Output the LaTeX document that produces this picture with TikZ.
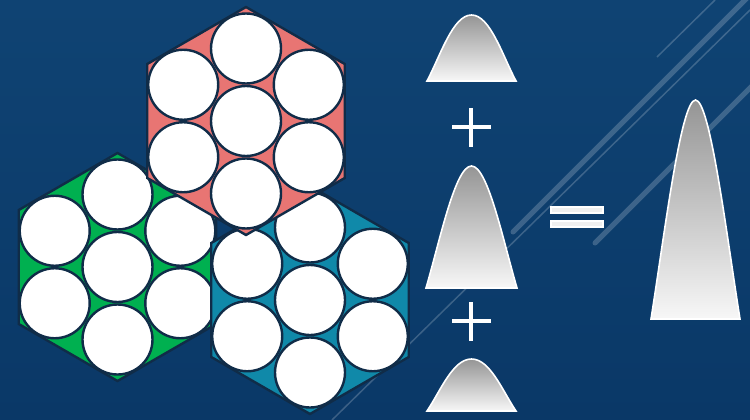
\documentclass[tikz,border=0pt]{standalone}
\usepackage{tikz}
\definecolor{slidetop}{HTML}{0F4373}
\definecolor{slidebot}{HTML}{0A3867}
\definecolor{cellline}{HTML}{102C48}
\definecolor{cellred}{HTML}{E87573}
\definecolor{cellgreen}{HTML}{00B050}
\definecolor{cellteal}{HTML}{1089A9}
\definecolor{bellgray}{HTML}{959595}
\definecolor{bellwhite}{HTML}{F7F7F7}
\tikzset{
  ball/.style={fill=white, draw=cellline, line width=2.4pt},
  streak/.style={white, opacity=0.2, line width=1.5pt},
  thickstreak/.style={streak, line width=5pt, line cap=round},
  bellcurve/.style={draw=white, line width=1.6pt, top color=bellgray, bottom color=bellwhite},
}
\newcommand{\hexpack}[3]{% x, y, fill  (hexagon with 7 packed circles)
  \begin{scope}[shift={(#1,#2)}]
    \filldraw[fill=#3, draw=cellline, line width=2.4pt]
      (90:114) -- (150:114) -- (210:114) -- (270:114) -- (330:114) -- (30:114) -- cycle;
    \draw[ball] (0,0) circle (35);
    \foreach \a in {30,90,...,330} {
      \draw[ball] (\a:72.5) circle (35);
    }
  \end{scope}
}
\newcommand{\bell}[5]{% x-centre, y-base, half width, height, top roundness
  \draw[bellcurve]
    (#1-#3,#2) .. controls (#1-0.7*#3,#2-0.38*#4) and (#1-#5*#3,#2-#4) .. (#1,#2-#4)
    .. controls (#1+#5*#3,#2-#4) and (#1+0.7*#3,#2-0.38*#4) .. (#1+#3,#2) -- cycle;
}
\newcommand{\plussign}[2]{% x, y  (centre)
  \fill[white] (#1-19.5,#2-2.2) rectangle (#1+19.5,#2+2.2);
  \fill[white] (#1-2.2,#2-19.5) rectangle (#1+2.2,#2+19.5);
}

\begin{document}
\begin{tikzpicture}[x=1pt, y=-1pt]
  \shade[top color=slidetop, bottom color=slidebot] (0,0) rectangle (750,420);
  \useasboundingbox (0,0) rectangle (750,420);

  % background streaks
  \draw[streak] (332,420) -- (750,10);
  \draw[streak] (657,57) -- (715,0);
  \draw[thickstreak] (513,232) -- (748,-3);
  \draw[thickstreak] (595,243) -- (755,83);

  % hexagon packs
  \hexpack{117.5}{267}{cellgreen}
  \hexpack{310}{300}{cellteal}
  \hexpack{246}{121}{cellred}

  % distributions
  \bell{471.5}{81}{44.5}{66}{0.42}
  \plussign{471}{127}
  \bell{471.5}{288}{45.5}{122}{0.36}
  \plussign{471}{321}
  \bell{471.5}{411}{44.5}{52}{0.42}

  % equals
  \filldraw[fill=gray!12, draw=white, line width=1.2pt] (551,207) rectangle (603,213);
  \filldraw[fill=gray!12, draw=white, line width=1.2pt] (551,221) rectangle (603,227);

  \bell{695.5}{319}{44.5}{219}{0.33}
\end{tikzpicture}
\end{document}
